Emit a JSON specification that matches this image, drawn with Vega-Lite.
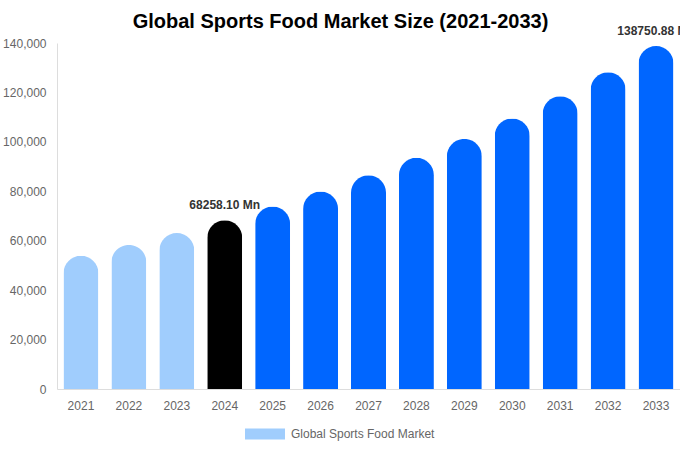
{
  "$schema": "https://vega.github.io/schema/vega-lite/v6.json",
  "width": 623,
  "height": 346,
  "autosize": "none",
  "padding": {"left": 57, "top": 43, "right": 0, "bottom": 61},
  "background": "white",
  "title": {
    "text": "Global Sports Food Market Size (2021-2033)",
    "font": "Liberation Sans",
    "fontSize": 20,
    "fontWeight": "bold",
    "color": "#000000",
    "anchor": "middle",
    "dx": -28,
    "offset": -7
  },
  "data": {
    "values": [
      {"year": "2021", "value": 53900, "phase": "past", "label": ""},
      {"year": "2022", "value": 58300, "phase": "past", "label": ""},
      {"year": "2023", "value": 63100, "phase": "past", "label": ""},
      {"year": "2024", "value": 68258.10, "phase": "current", "label": "68258.10 Mn"},
      {"year": "2025", "value": 73850, "phase": "forecast", "label": ""},
      {"year": "2026", "value": 79900, "phase": "forecast", "label": ""},
      {"year": "2027", "value": 86500, "phase": "forecast", "label": ""},
      {"year": "2028", "value": 93600, "phase": "forecast", "label": ""},
      {"year": "2029", "value": 101200, "phase": "forecast", "label": ""},
      {"year": "2030", "value": 109500, "phase": "forecast", "label": ""},
      {"year": "2031", "value": 118500, "phase": "forecast", "label": ""},
      {"year": "2032", "value": 128200, "phase": "forecast", "label": ""},
      {"year": "2033", "value": 138750.88, "phase": "forecast", "label": "138750.88 Mn"}
    ]
  },
  "encoding": {
    "x": {
      "field": "year",
      "type": "nominal",
      "title": null,
      "scale": {"paddingInner": 0.27, "paddingOuter": 0.135},
      "axis": {
        "labelAngle": 0,
        "ticks": false,
        "domainColor": "#dddddd",
        "labelColor": "#666666",
        "labelFont": "Liberation Sans",
        "labelFontSize": 12,
        "labelPadding": 11
      }
    },
    "y": {
      "field": "value",
      "type": "quantitative",
      "title": null,
      "scale": {"domain": [0, 140000], "nice": false},
      "axis": {
        "values": [0, 20000, 40000, 60000, 80000, 100000, 120000, 140000],
        "format": ",d",
        "grid": false,
        "ticks": false,
        "domainColor": "#dddddd",
        "labelColor": "#666666",
        "labelFont": "Liberation Sans",
        "labelFontSize": 12,
        "labelPadding": 11
      }
    }
  },
  "layer": [
    {
      "mark": {"type": "bar", "size": 35, "cornerRadiusTopLeft": 17.5, "cornerRadiusTopRight": 17.5},
      "encoding": {
        "color": {
          "field": "phase",
          "type": "nominal",
          "scale": {"domain": ["past", "current", "forecast"], "range": ["#a0cdfd", "#000000", "#0066ff"]},
          "legend": {
            "title": null,
            "values": ["past"],
            "labelExpr": "'Global Sports Food Market'",
            "orient": "none",
            "legendX": 188,
            "legendY": 371,
            "symbolType": "M-1,-0.275L1,-0.275L1,0.275L-1,0.275Z",
            "symbolSize": 1600,
            "symbolStrokeWidth": 0,
            "labelColor": "#666666",
            "labelFont": "Liberation Sans",
            "labelFontSize": 12,
            "labelOffset": 6
          }
        }
      }
    },
    {
      "transform": [{"filter": "datum.label !== ''"}],
      "mark": {
        "type": "text",
        "dy": -15,
        "font": "Liberation Sans",
        "fontSize": 12,
        "fontWeight": "bold",
        "color": "#333333"
      },
      "encoding": {
        "text": {"field": "label", "type": "nominal"}
      }
    }
  ],
  "config": {
    "view": {"stroke": null}
  }
}
